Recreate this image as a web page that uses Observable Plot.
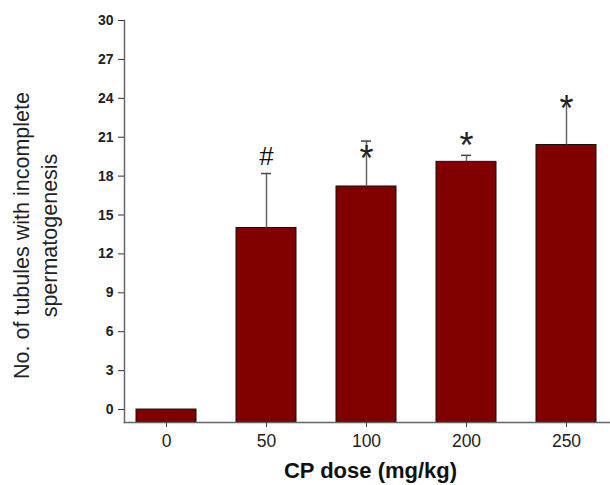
<!DOCTYPE html>
<html>
<head>
<meta charset="utf-8">
<script src="https://cdn.jsdelivr.net/npm/d3@7"></script>
<script src="https://cdn.jsdelivr.net/npm/@observablehq/plot@0.6"></script>
<style>
  html, body { margin: 0; padding: 0; background: #fff; }
</style>
</head>
<body>
<div id="chart"></div>
<script>
const doses = ["0", "50", "100", "200", "250"];
const means = [0, 14.0, 17.2, 19.1, 20.4];
const errors = [0, 4.2, 3.5, 0.5, 3.4];
const sigLabels = ["", "#", "*", "*", "*"];
const sigValues = [null, 19.5, 19.95, 21.0, 23.8];
const yTicks = [0, 3, 6, 9, 12, 15, 18, 21, 24, 27, 30];
const yMin = -1, yMax = 30;
const xTitle = "CP dose (mg/kg)";
const yTitle = "No. of tubules with incomplete\nspermatogenesis";

const data = doses.map((d, i) => ({dose: d, mean: means[i], err: errors[i], sig: sigLabels[i], sigY: sigValues[i]}));
const withErr = data.filter(d => d.err > 0);

const chart = Plot.plot({
  width: 610,
  height: 485,
  marginLeft: 124,
  marginRight: 0,
  marginTop: 20,
  marginBottom: 63,
  style: {fontFamily: "'Liberation Sans', Arial, sans-serif", background: "#fff", color: "#222"},
  x: {domain: doses, range: [115, 616], paddingInner: 0.4, paddingOuter: 0.2},
  y: {domain: [yMin, yMax]},
  marks: [
    Plot.barY(data, {x: "dose", y1: yMin, y2: "mean", fill: "#800000", stroke: "#111", strokeWidth: 1}),
    Plot.ruleX(withErr, {x: "dose", y1: "mean", y2: d => d.mean + d.err, stroke: "#666", strokeWidth: 1.5}),
    Plot.tickY(withErr, {x: "dose", y: d => d.mean + d.err, stroke: "#444", strokeWidth: 1.5, insetLeft: 25, insetRight: 25}),
    Plot.frame({anchor: "left", stroke: "#666", strokeWidth: 1.5}),
    Plot.frame({anchor: "bottom", stroke: "#666", strokeWidth: 1.5}),
    Plot.axisY({ticks: yTicks, tickSize: 6, tickPadding: 5, fontSize: 14, fontWeight: "bold", label: null, stroke: "#333"}),
    Plot.axisX({tickSize: 5, tickPadding: 7, fontSize: 17.5, label: null, stroke: "#444"}),
    Plot.text(data.filter(d => d.sig === "#"), {x: "dose", y: "sigY", text: "sig", fontSize: 26, fill: "#111"}),
    Plot.text(data.filter(d => d.sig === "*"), {x: "dose", y: "sigY", text: "sig", fontSize: 36, dy: 9, fill: "#222"}),
    Plot.text([yTitle], {text: d => d, frameAnchor: "left", textAnchor: "middle", lineAnchor: "middle", rotate: -90, dx: -90, dy: 14, fontSize: 21.5, lineHeight: 1.3, fill: "#222"}),
    Plot.text([xTitle], {text: d => d, frameAnchor: "bottom", textAnchor: "middle", lineAnchor: "top", dx: 3, dy: 40, fontSize: 22, fontWeight: "bold", fill: "#111"})
  ]
});
document.getElementById("chart").append(chart);
</script>
</body>
</html>
